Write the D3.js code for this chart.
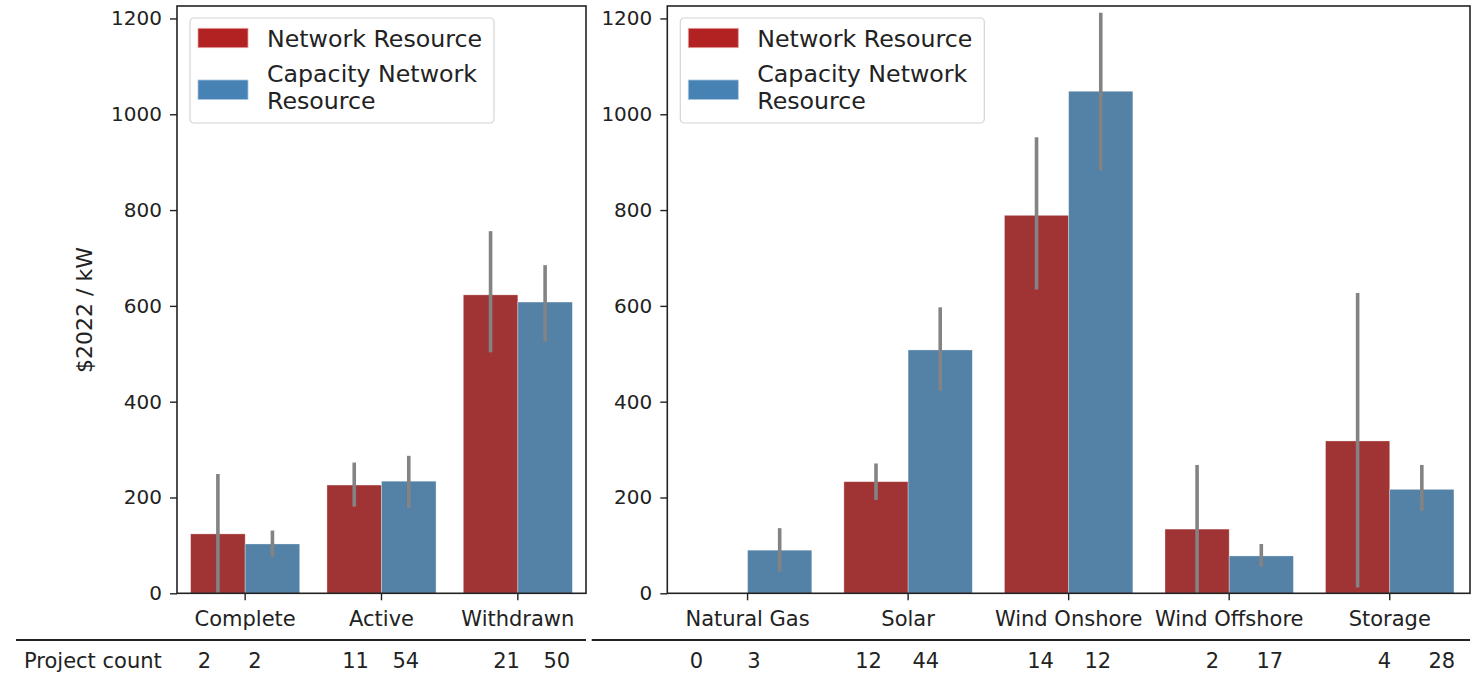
<!DOCTYPE html>
<html>
<head>
<meta charset="utf-8">
<script src="https://cdn.jsdelivr.net/npm/d3@7"></script>
<style>
  body { margin: 0; background: #fff; }
  svg { display: block; font-family: "DejaVu Sans", sans-serif; }
</style>
</head>
<body>
<svg id="chart" width="1478" height="679"></svg>
<script>
// series names
var seriesNames = ["Network Resource", "Capacity Network Resource"];

// left panel: by queue status
var statusCats = ["Complete", "Active", "Withdrawn"];
var statusNR = [124, 226, 623];
var statusNRlo = [0, 181, 503];
var statusNRhi = [249, 273, 756];
var statusCNR = [103, 234, 608];
var statusCNRlo = [76, 178, 525];
var statusCNRhi = [131, 287, 685];
var statusCountNR = [2, 11, 21];
var statusCountCNR = [2, 54, 50];

// right panel: by technology
var techCats = ["Natural Gas", "Solar", "Wind Onshore", "Wind Offshore", "Storage"];
var techNR = [null, 233, 789, 134, 318];
var techNRlo = [null, 195, 634, 0, 12];
var techNRhi = [null, 271, 952, 268, 627];
var techCNR = [90, 508, 1048, 78, 217];
var techCNRlo = [45, 423, 883, 55, 172];
var techCNRhi = [136, 597, 1212, 103, 268];
var techCountNR = [0, 12, 14, 2, 4];
var techCountCNR = [3, 44, 12, 17, 28];

var yTicks = [0, 200, 400, 600, 800, 1000, 1200];

var barColors = ["#a03434", "#5481a6"];
var legendColors = ["#b22222", "#4682b4"];

var svg = d3.select("#chart");

var y = d3.scaleLinear().domain([0, 1226]).range([593.3, 6]);

function drawPanel(opt) {
    var g = svg.append("g");
    var x = d3.scaleBand().domain(opt.cats).range([opt.x0, opt.x1]);
    var bw = x.bandwidth();
    var xSub = d3.scaleBand().domain([0, 1]).range([0.1 * bw, 0.9 * bw]);

    // build rows for the bars
    var rows = [];
    opt.cats.forEach(function(c, i) {
        [opt.nr, opt.cnr].forEach(function(s, k) {
            if (s.val[i] == null) return;
            rows.push({cat: c, k: k, v: s.val[i], lo: s.lo[i], hi: s.hi[i]});
        });
    });

    g.selectAll(".bar")
        .data(rows)
        .enter().append("rect")
        .attr("x", function(d) { return x(d.cat) + xSub(d.k); })
        .attr("width", xSub.bandwidth())
        .attr("y", function(d) { return y(d.v); })
        .attr("height", function(d) { return y(0) - y(d.v); })
        .attr("fill", function(d) { return barColors[d.k]; })
        .attr("stroke", "#ffffff")
        .attr("stroke-opacity", 0.4)
        .attr("stroke-width", 0.8);

    // error bars
    g.selectAll(".err")
        .data(rows)
        .enter().append("line")
        .attr("x1", function(d) { return x(d.cat) + xSub(d.k) + xSub.bandwidth() / 2; })
        .attr("x2", function(d) { return x(d.cat) + xSub(d.k) + xSub.bandwidth() / 2; })
        .attr("y1", function(d) { return y(d.lo); })
        .attr("y2", function(d) { return y(d.hi); })
        .attr("stroke", "#838383")
        .attr("stroke-width", 3.6);

    // y axis
    var ya = g.append("g")
        .attr("transform", "translate(" + opt.x0 + ",0)")
        .call(d3.axisLeft(y).tickValues(yTicks).tickFormat(d3.format("d"))
            .tickSize(7).tickPadding(8));
    ya.select(".domain").remove();
    ya.selectAll("line").attr("stroke", "#222").attr("stroke-width", 1.4);
    ya.selectAll("text").attr("font-size", 20).attr("fill", "#222")
        .attr("font-family", "DejaVu Sans");

    // x axis
    var xa = g.append("g")
        .attr("transform", "translate(0," + y(0) + ")")
        .call(d3.axisBottom(x).tickSize(7).tickPadding(10.5));
    xa.select(".domain").remove();
    xa.selectAll("line").attr("stroke", "#222").attr("stroke-width", 1.4);
    xa.selectAll("text").attr("font-size", 21).attr("fill", "#222")
        .attr("font-family", "DejaVu Sans");

    // frame
    g.append("rect")
        .attr("x", opt.x0)
        .attr("y", y.range()[1])
        .attr("width", opt.x1 - opt.x0)
        .attr("height", y.range()[0] - y.range()[1])
        .attr("fill", "none")
        .attr("stroke", "#222")
        .attr("stroke-width", 1.6);

    // legend
    var lg = g.append("g").attr("transform", "translate(" + (opt.x0 + 13) + ",18)");
    lg.append("rect")
        .attr("width", 304)
        .attr("height", 105)
        .attr("rx", 4)
        .attr("fill", "#fff")
        .attr("fill-opacity", 0.8)
        .attr("stroke", "#d4d4d4")
        .attr("stroke-width", 1.2);
    lg.append("rect").attr("x", 8).attr("y", 10.3).attr("width", 50).attr("height", 19.4)
        .attr("fill", legendColors[0]).attr("stroke", "#e8a0a0").attr("stroke-width", 0.8);
    lg.append("rect").attr("x", 8).attr("y", 62).attr("width", 50).attr("height", 19.4)
        .attr("fill", legendColors[1]).attr("stroke", "#a8c4dc").attr("stroke-width", 0.8);
    lg.append("text").attr("x", 77).attr("y", 28.7)
        .attr("font-size", 23.7).attr("fill", "#222").text(seriesNames[0]);
    lg.append("text").attr("x", 77).attr("y", 63.7)
        .attr("font-size", 23.7).attr("fill", "#222").text("Capacity Network");
    lg.append("text").attr("x", 77).attr("y", 91.3)
        .attr("font-size", 23.7).attr("fill", "#222").text("Resource");

    // project count row below
    g.append("line")
        .attr("x1", opt.lineX0).attr("x2", opt.x1)
        .attr("y1", 640).attr("y2", 640)
        .attr("stroke", "#222").attr("stroke-width", 2);

    var tx = d3.scaleLinear().domain([0, opt.cats.length])
        .range([opt.countX0, opt.countX0 + opt.countStep * opt.cats.length]);
    var counts = [];
    opt.cats.forEach(function(c, i) {
        counts.push({t: i, v: opt.countNR[i]});
        counts.push({t: i + 1 / 3, v: opt.countCNR[i]});
    });
    g.selectAll(".count")
        .data(counts)
        .enter().append("text")
        .attr("x", function(d) { return tx(d.t); })
        .attr("y", 668)
        .attr("text-anchor", "middle")
        .attr("font-size", 21)
        .attr("fill", "#222")
        .text(function(d) { return d.v; });
}

drawPanel({
    cats: statusCats, x0: 177, x1: 586, lineX0: 16,
    nr: {val: statusNR, lo: statusNRlo, hi: statusNRhi},
    cnr: {val: statusCNR, lo: statusCNRlo, hi: statusCNRhi},
    countNR: statusCountNR, countCNR: statusCountCNR,
    countX0: 204.5, countStep: 151
});

drawPanel({
    cats: techCats, x0: 667.3, x1: 1470, lineX0: 591.7,
    nr: {val: techNR, lo: techNRlo, hi: techNRhi},
    cnr: {val: techCNR, lo: techCNRlo, hi: techCNRhi},
    countNR: techCountNR, countCNR: techCountCNR,
    countX0: 696.5, countStep: 172
});

// y axis title
svg.append("text")
    .attr("transform", "translate(92,310) rotate(-90)")
    .attr("text-anchor", "middle")
    .attr("font-size", 22)
    .attr("fill", "#222")
    .text("$2022 / kW");

// row title
svg.append("text")
    .attr("x", 24)
    .attr("y", 668)
    .attr("font-size", 21)
    .attr("fill", "#222")
    .text("Project count");
</script>
</body>
</html>
